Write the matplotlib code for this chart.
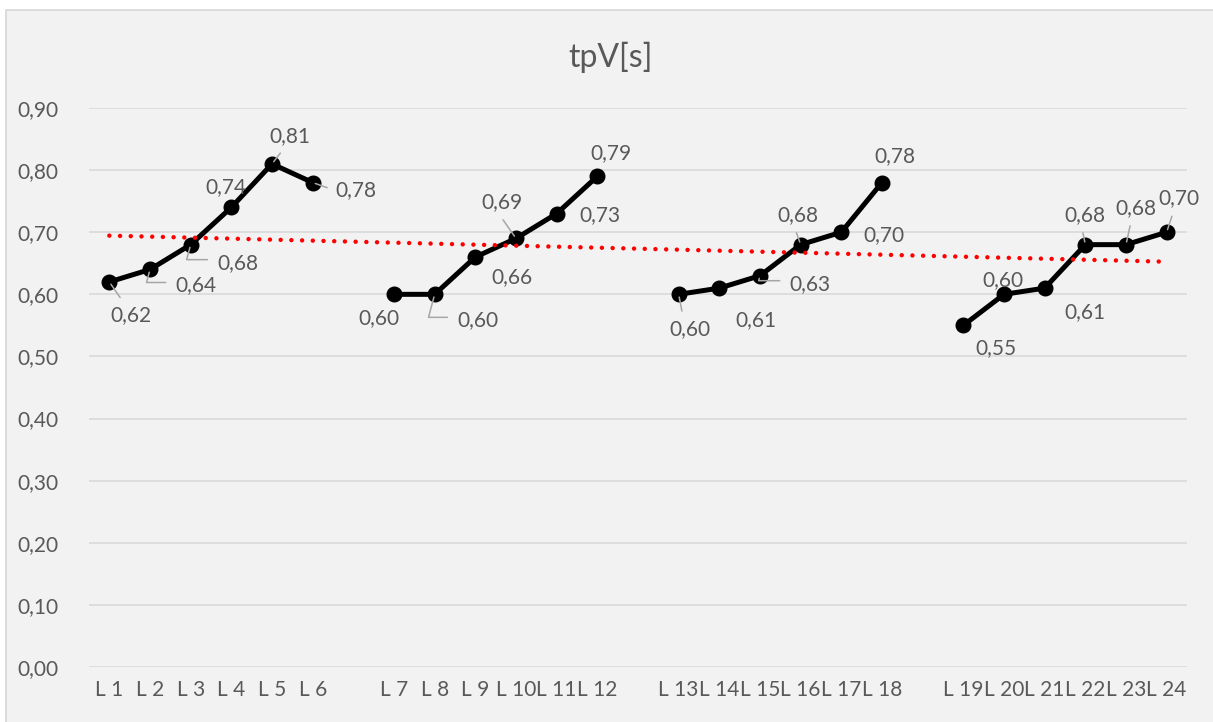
import numpy as np
import matplotlib
matplotlib.use("Agg")
import matplotlib.pyplot as plt
from matplotlib.patches import Rectangle

plt.rcParams['font.family'] = ['Lato', 'DejaVu Sans']

# tpV per line, four blocks of six
lines = ['L 1', 'L 2', 'L 3', 'L 4', 'L 5', 'L 6',
         'L 7', 'L 8', 'L 9', 'L 10', 'L 11', 'L 12',
         'L 13', 'L 14', 'L 15', 'L 16', 'L 17', 'L 18',
         'L 19', 'L 20', 'L 21', 'L 22', 'L 23', 'L 24']
tpv = [0.62, 0.64, 0.68, 0.74, 0.81, 0.78,
       0.60, 0.60, 0.66, 0.69, 0.73, 0.79,
       0.60, 0.61, 0.63, 0.68, 0.70, 0.78,
       0.55, 0.60, 0.61, 0.68, 0.68, 0.70]
# linear trend, value at first and last category
trend = [0.6945, 0.6525]

block = 6
yticks = np.arange(0, 0.91, 0.1)

# label placement: (dx, dy) in pixels from the point, leader style
label_pos = [
    (22, -33, 'line'), (46, -16, 'elbow'), (47, -18, 'elbow'), (-5, 20, None), (18, 28, 'line'), (43, -8, 'side'),
    (-15, -24, None), (43, -26, 'elbow'), (37, -20, None), (-14, 36, 'line'), (43, -2, None), (14, 23, None),
    (11, -35, 'line'), (37, -32, None), (50, -8, 'elbow'), (-3, 30, 'line'), (43, -3, None), (13, 26, None),
    (33, -23, None), (-1, 14, None), (40, -24, None), (0, 30, 'line'), (10, 37, 'line'), (12, 34, 'line'),
]

# slot positions with one empty category between blocks
xpos = np.array([i + i // block for i in range(len(tpv))])
nslots = xpos[-1] + 1
ticklabels = [''] * nslots
for x, name in zip(xpos, lines):
    ticklabels[x] = name

txt = '#595959'
fig = plt.figure(figsize=(12.13, 7.22), dpi=100)
fig.patch.set_facecolor('white')
fig.patches.append(Rectangle((6 / 1213, -0.05), 1.1, 712 / 722 + 0.05,
                             transform=fig.transFigure, facecolor='#f2f2f2',
                             edgecolor='#d9d9d9', lw=1.3, zorder=-10))

ax = fig.add_axes([89 / 1213, 55 / 722, 1098 / 1213, 559 / 722])
ax.set_facecolor('none')
for s in ax.spines.values():
    s.set_visible(False)

ax.set_xlim(-0.5, nslots - 0.5)
ax.set_ylim(0, 0.9)
ax.set_yticks(yticks)
ax.set_yticklabels([f'{v:.2f}'.replace('.', ',') for v in yticks])
ax.set_xticks(range(nslots))
ax.set_xticklabels(ticklabels)
ax.tick_params(axis='both', length=0, labelsize=15, labelcolor=txt)
ax.tick_params(axis='y', pad=22)
ax.tick_params(axis='x', pad=9)
ax.grid(axis='y', color='#d9d9d9', lw=1.2)
ax.set_axisbelow(True)

for b in range(0, len(tpv), block):
    ax.plot(xpos[b:b + block], tpv[b:b + block], color='black', lw=3.6,
            marker='o', markersize=10.5, solid_capstyle='round',
            solid_joinstyle='round', zorder=3)

ax.plot([0, nslots - 1], trend, color='#ff0000', lw=3.2,
        linestyle=(0, (0.01, 2.4)), dash_capstyle='round', zorder=4)

for x, v, (dx, dy, kind) in zip(xpos, tpv, label_pos):
    arrow = None
    if kind == 'line':
        arrow = dict(arrowstyle='-', color='#a6a6a6', lw=1.1,
                     shrinkA=4, shrinkB=2,
                     relpos=(0.35, 1.0) if dy < 0 else (0.4, 0.0))
    elif kind == 'side':
        arrow = dict(arrowstyle='-', color='#a6a6a6', lw=1.1,
                     shrinkA=4, shrinkB=2, relpos=(0.0, 0.5))
    elif kind == 'elbow':
        arrow = dict(arrowstyle='-', color='#a6a6a6', lw=1.1,
                     shrinkA=5, shrinkB=2, relpos=(0.0, 0.65),
                     connectionstyle='angle,angleA=0,angleB=75,rad=0')
    ax.annotate(f'{v:.2f}'.replace('.', ','), xy=(x, v), xytext=(dx, dy),
                textcoords='offset pixels', ha='center', va='center',
                fontsize=15, color=txt, arrowprops=arrow, zorder=5)

fig.text(611 / 1213, 1 - 57 / 722, 'tpV[s]', ha='center', va='center',
         fontsize=23, color=txt)

fig.savefig('out.png', dpi=100, facecolor=fig.get_facecolor())
